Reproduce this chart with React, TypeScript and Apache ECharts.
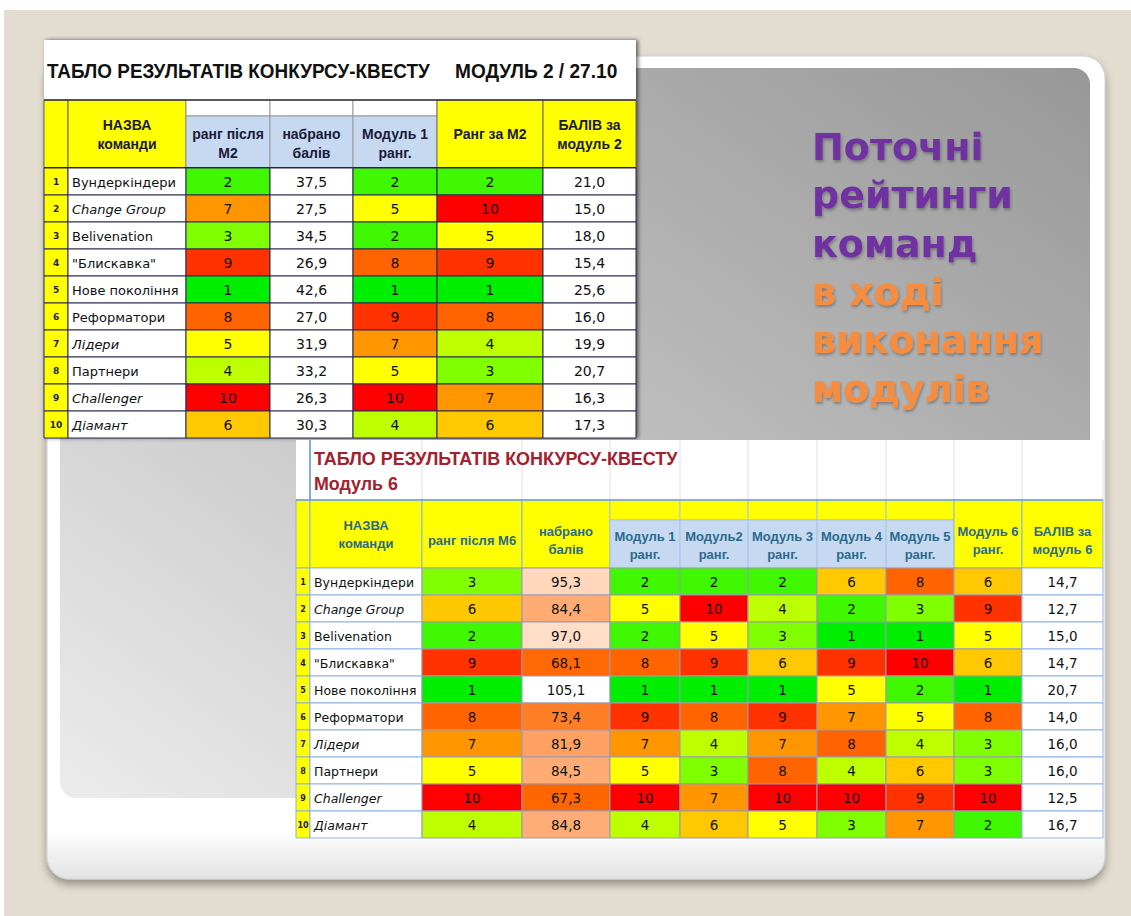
import React, { useEffect, useRef } from 'react';
import * as echarts from 'echarts';

// ---------- DATA ----------
const teams = ['Вундеркіндери', 'Change Group', 'Belivenation', '"Блискавка"', 'Нове покоління', 'Реформатори', 'Лідери', 'Партнери', 'Challenger', 'Діамант'];
const italicTeams = ['Change Group', 'Лідери', 'Challenger', 'Діамант'];
const rowNumbers = ['1', '2', '3', '4', '5', '6', '7', '8', '9', '10'];

// Table "Модуль 2 / 27.10"
const m2RankAfter = [2, 7, 3, 9, 1, 8, 5, 4, 10, 6];
const m2Points = [37.5, 27.5, 34.5, 26.9, 42.6, 27.0, 31.9, 33.2, 26.3, 30.3];
const m2Module1Rank = [2, 5, 2, 8, 1, 9, 7, 5, 10, 4];
const m2RankForM2 = [2, 10, 5, 9, 1, 8, 4, 3, 7, 6];
const m2Score = [21.0, 15.0, 18.0, 15.4, 25.6, 16.0, 19.9, 20.7, 16.3, 17.3];

// Table "Модуль 6"
const m6RankAfter = [3, 6, 2, 9, 1, 8, 7, 5, 10, 4];
const m6Points = [95.3, 84.4, 97.0, 68.1, 105.1, 73.4, 81.9, 84.5, 67.3, 84.8];
const m6Module1Rank = [2, 5, 2, 8, 1, 9, 7, 5, 10, 4];
const m6Module2Rank = [2, 10, 5, 9, 1, 8, 4, 3, 7, 6];
const m6Module3Rank = [2, 4, 3, 6, 1, 9, 7, 8, 10, 5];
const m6Module4Rank = [6, 2, 1, 9, 5, 7, 8, 4, 10, 3];
const m6Module5Rank = [8, 3, 1, 10, 2, 5, 4, 6, 9, 7];
const m6Module6Rank = [6, 9, 5, 6, 1, 8, 3, 3, 10, 2];
const m6Score = [14.7, 12.7, 15.0, 14.7, 20.7, 14.0, 16.0, 16.0, 12.5, 16.7];

const m2Title = 'ТАБЛО РЕЗУЛЬТАТІВ КОНКУРСУ-КВЕСТУ';
const m2Subtitle = 'МОДУЛЬ 2 / 27.10';
const m6Title = 'ТАБЛО РЕЗУЛЬТАТІВ КОНКУРСУ-КВЕСТУ';
const m6Subtitle = 'Модуль 6';
const m2Headers = ['НАЗВА\nкоманди', 'ранг після\nM2', 'набрано\nбалів', 'Модуль 1\nранг.', 'Ранг за M2', 'БАЛІВ за\nмодуль 2'];
const m6Headers = ['НАЗВА\nкоманди', 'ранг після М6', 'набрано\nбалів', 'Модуль 1\nранг.', 'Модуль2\nранг.', 'Модуль 3\nранг.', 'Модуль 4\nранг.', 'Модуль 5\nранг.', 'Модуль 6\nранг.', 'БАЛІВ за\nмодуль 6'];
const headingPurple = ['Поточні', 'рейтинги', 'команд'];
const headingOrange = ['в ході', 'виконання', 'модулів'];

// ---------- STYLE / LAYOUT ----------
const rankPalette = ['#00ef00', '#3ff800', '#80ff00', '#bdff00', '#ffff00', '#ffc800', '#ff9600', '#ff6400', '#ff3200', '#ff0000'];
const YELLOW = '#ffff00';
const BLUE = '#c6d9f0';
const L1 = { edges: [44, 68, 186, 270, 353, 437, 543, 636], headTop: 100, split: 116, top: 168, rowH: 27, kinds: ['y', 's', 's', 's', 'y', 'y'] };
const L2 = { edges: [296, 310, 422, 522, 610, 680, 748, 817, 886, 954, 1022, 1103], headTop: 500, split: 520, top: 568, rowH: 27, kinds: ['y', 'y', 'y', 'sy', 'sy', 'sy', 'sy', 'sy', 'y', 'y'] };
const CELL_FONT = "'DejaVu Sans', 'Noto Sans', sans-serif";
const HEAD_FONT = "'Liberation Sans', Arial, sans-serif";

type Cell = { col: number; row: number; text: string; fill: string; kind: 'idx' | 'name' | 'val'; italic?: boolean };

const fmt = (v: number) => v.toFixed(1).replace('.', ',');
const rankFill = (v: number) => rankPalette[v - 1];

function mix(a: string, b: string, t: number) {
  const pa = [1, 3, 5].map((i) => parseInt(a.slice(i, i + 2), 16));
  const pb = [1, 3, 5].map((i) => parseInt(b.slice(i, i + 2), 16));
  const c = pa.map((x, i) => Math.round(x + (pb[i] - x) * t));
  return 'rgb(' + c.join(',') + ')';
}
const pMin = Math.min(...m6Points);
const pMax = Math.max(...m6Points);
const pointsFill = (v: number) => mix('#ff6600', '#ffffff', (v - pMin) / (pMax - pMin));

function baseCells(r: number): Cell[] {
  return [
    { col: 0, row: r, text: rowNumbers[r], fill: YELLOW, kind: 'idx' },
    { col: 1, row: r, text: teams[r], fill: '#ffffff', kind: 'name', italic: italicTeams.includes(teams[r]) },
  ];
}

const cells1: Cell[] = [];
const cells2: Cell[] = [];
for (let r = 0; r < teams.length; r++) {
  cells1.push(
    ...baseCells(r),
    { col: 2, row: r, text: String(m2RankAfter[r]), fill: rankFill(m2RankAfter[r]), kind: 'val' },
    { col: 3, row: r, text: fmt(m2Points[r]), fill: '#ffffff', kind: 'val' },
    { col: 4, row: r, text: String(m2Module1Rank[r]), fill: rankFill(m2Module1Rank[r]), kind: 'val' },
    { col: 5, row: r, text: String(m2RankForM2[r]), fill: rankFill(m2RankForM2[r]), kind: 'val' },
    { col: 6, row: r, text: fmt(m2Score[r]), fill: '#ffffff', kind: 'val' }
  );
  const mods = [m6Module1Rank, m6Module2Rank, m6Module3Rank, m6Module4Rank, m6Module5Rank, m6Module6Rank];
  cells2.push(
    ...baseCells(r),
    { col: 2, row: r, text: String(m6RankAfter[r]), fill: rankFill(m6RankAfter[r]), kind: 'val' },
    { col: 3, row: r, text: fmt(m6Points[r]), fill: pointsFill(m6Points[r]), kind: 'val' },
    ...mods.map((m, i) => ({ col: 4 + i, row: r, text: String(m[r]), fill: rankFill(m[r]), kind: 'val' as const })),
    { col: 10, row: r, text: fmt(m6Score[r]), fill: '#ffffff', kind: 'val' }
  );
}

function makeRender(cells: Cell[], t: 1 | 2) {
  return (params: any, api: any) => {
    const c = cells[params.dataIndex];
    const p0 = api.coord([api.value(0), api.value(1)]);
    const p1 = api.coord([api.value(2), api.value(1)]);
    const h = api.size([0, 1])[1];
    const x = p0[0];
    const y = p0[1] - h / 2;
    const w = p1[0] - p0[0];
    let stroke = '#2b2b55';
    if (t === 2) stroke = c.kind === 'val' && c.fill !== '#ffffff' ? '#9a9ab4' : '#8db3e2';
    let tx = x + w / 2;
    let align = 'center';
    let fontSize = t === 1 ? 14 : 13.5;
    let fontWeight: any = 'normal';
    let color = '#111';
    if (c.kind === 'name') {
      tx = x + 4;
      align = 'left';
      fontSize = t === 1 ? 13 : 12.5;
    } else if (c.kind === 'idx') {
      fontSize = t === 1 ? 9 : 8;
      fontWeight = 'bold';
      color = '#222244';
    }
    return {
      type: 'group',
      children: [
        { type: 'rect', shape: { x, y, width: w, height: h }, style: { fill: c.fill, stroke, lineWidth: 1 } },
        {
          type: 'text',
          x: tx,
          y: y + h / 2 + 0.5,
          style: { text: c.text, align, verticalAlign: 'middle', fill: color, fontSize, fontWeight, fontFamily: CELL_FONT, fontStyle: c.italic ? 'italic' : 'normal' },
        },
      ],
    };
  };
}

function headerElements(L: typeof L1, headers: string[], t: 1 | 2) {
  const els: any[] = [];
  const e = L.edges;
  const stroke = t === 1 ? '#666' : '#8db3e2';
  const textColor = t === 1 ? '#1a1a3a' : '#2c6a8c';
  const fs = t === 1 ? 14 : 13;
  els.push({ type: 'rect', shape: { x: e[0], y: L.headTop, width: e[1] - e[0], height: L.top - L.headTop }, style: { fill: YELLOW, stroke, lineWidth: 1 } });
  L.kinds.forEach((k, i) => {
    const x0 = e[i + 1];
    const x1 = e[i + 2];
    let cy = (L.headTop + L.top) / 2;
    if (k === 'y') {
      els.push({ type: 'rect', shape: { x: x0, y: L.headTop, width: x1 - x0, height: L.top - L.headTop }, style: { fill: YELLOW, stroke, lineWidth: 1 } });
    } else {
      els.push({ type: 'rect', shape: { x: x0, y: L.headTop, width: x1 - x0, height: L.split - L.headTop }, style: { fill: k === 's' ? '#ffffff' : YELLOW, stroke: t === 1 ? '#999' : '#a8c4e6', lineWidth: 1 } });
      els.push({ type: 'rect', shape: { x: x0, y: L.split, width: x1 - x0, height: L.top - L.split }, style: { fill: BLUE, stroke: t === 1 ? '#999' : '#a8c4e6', lineWidth: 1 } });
      cy = (L.split + L.top) / 2 + 1;
    }
    if (t === 2 && k === 'y' && i >= 1) cy += 6;
    els.push({
      type: 'text',
      x: (x0 + x1) / 2,
      y: cy,
      style: { text: headers[i], align: 'center', verticalAlign: 'middle', fill: textColor, fontSize: fs, fontWeight: 'bold', fontFamily: HEAD_FONT, lineHeight: fs + 5 },
    });
  });
  return els;
}

function buildOption(): any {
  const bg: any[] = [];
  bg.push({ type: 'rect', shape: { x: 0, y: 0, width: 1131, height: 916 }, style: { fill: '#ffffff' } });
  bg.push({ type: 'rect', shape: { x: 4, y: 10, width: 1127, height: 906 }, style: { fill: '#e3dcd0' } });
  bg.push({
    type: 'rect',
    shape: { x: 47, y: 56, width: 1058, height: 823, r: 22 },
    style: {
      fill: new echarts.graphic.LinearGradient(0, 0, 0, 1, [
        { offset: 0, color: '#ffffff' },
        { offset: 0.94, color: '#ffffff' },
        { offset: 1, color: '#e2e2e2' },
      ]),
      stroke: '#d0d0d0',
      lineWidth: 1,
      shadowBlur: 8,
      shadowOffsetY: 5,
      shadowColor: 'rgba(0,0,0,0.35)',
    },
  });
  bg.push({
    type: 'rect',
    shape: { x: 60, y: 68, width: 1030, height: 730, r: 16 },
    style: {
      fill: new echarts.graphic.LinearGradient(0, 1, 1, 0, [
        { offset: 0, color: '#ececec' },
        { offset: 0.45, color: '#c4c4c4' },
        { offset: 1, color: '#989898' },
      ]),
    },
  });
  headingPurple.concat(headingOrange).forEach((s, i) => {
    bg.push({
      type: 'text',
      x: 812,
      y: 147 + i * 48.3,
      style: {
        text: s,
        fill: i < headingPurple.length ? '#7030a0' : '#f68c3e',
        fontSize: 38,
        fontWeight: 'bold',
        fontFamily: "'DejaVu Sans', Verdana, sans-serif",
        verticalAlign: 'middle',
        textShadowColor: 'rgba(0,0,0,0.3)',
        textShadowBlur: 3,
        textShadowOffsetX: 1,
        textShadowOffsetY: 2,
      },
    });
  });

  // ---- table 1 ----
  bg.push({ type: 'rect', shape: { x: 44, y: 40, width: 592, height: 398 }, style: { fill: '#ffffff', shadowBlur: 4, shadowOffsetX: 2, shadowColor: 'rgba(0,0,0,0.6)' } });
  bg.push({ type: 'text', x: 47, y: 71, scaleX: 0.9, style: { text: m2Title, fill: '#111', fontSize: 21, fontWeight: 'bold', fontFamily: HEAD_FONT, verticalAlign: 'middle' } });
  bg.push({ type: 'text', x: 455, y: 71, scaleX: 0.91, style: { text: m2Subtitle, fill: '#111', fontSize: 21, fontWeight: 'bold', fontFamily: HEAD_FONT, verticalAlign: 'middle' } });
  bg.push(...headerElements(L1, m2Headers, 1));
  bg.push({ type: 'line', shape: { x1: 44, y1: 100, x2: 636, y2: 100 }, style: { stroke: '#333', lineWidth: 1.5 } });
  bg.push({ type: 'line', shape: { x1: 44, y1: 168, x2: 636, y2: 168 }, style: { stroke: '#222', lineWidth: 2 } });

  // ---- table 2 ----
  bg.push({ type: 'rect', shape: { x: 296, y: 440, width: 807, height: 400 }, style: { fill: '#ffffff' } });
  L2.edges.slice(2).forEach((x) => {
    bg.push({ type: 'line', shape: { x1: x, y1: 440, x2: x, y2: 500 }, style: { stroke: '#e0e0e0', lineWidth: 1 } });
  });
  bg.push({ type: 'line', shape: { x1: 310, y1: 440, x2: 310, y2: 500 }, style: { stroke: '#5b8fd0', lineWidth: 1.5 } });
  bg.push({ type: 'text', x: 314, y: 458, scaleX: 0.945, style: { text: m6Title, fill: '#a3202e', fontSize: 19, fontWeight: 'bold', fontFamily: HEAD_FONT, verticalAlign: 'middle' } });
  bg.push({ type: 'text', x: 314, y: 483, scaleX: 0.94, style: { text: m6Subtitle, fill: '#a3202e', fontSize: 19, fontWeight: 'bold', fontFamily: HEAD_FONT, verticalAlign: 'middle' } });
  bg.push(...headerElements(L2 as any, m6Headers, 2));
  bg.push({ type: 'line', shape: { x1: 296, y1: 500, x2: 1103, y2: 500 }, style: { stroke: '#6f9fd8', lineWidth: 1.5 } });

  const mkGrid = (L: any) => ({ left: L.edges[0], top: L.top, width: L.edges[L.edges.length - 1] - L.edges[0], height: L.rowH * teams.length });
  const mkX = (L: any, gi: number) => ({ type: 'value', gridIndex: gi, min: L.edges[0], max: L.edges[L.edges.length - 1], show: false });
  const mkY = (gi: number) => ({ type: 'category', gridIndex: gi, data: rowNumbers, inverse: true, show: false });
  const mkData = (cells: Cell[], L: any) => cells.map((c) => [L.edges[c.col], c.row, L.edges[c.col + 1]]);

  return {
    animation: false,
    graphic: { elements: bg },
    grid: [mkGrid(L1), mkGrid(L2)],
    xAxis: [mkX(L1, 0), mkX(L2, 1)],
    yAxis: [mkY(0), mkY(1)],
    series: [
      { type: 'custom', xAxisIndex: 0, yAxisIndex: 0, renderItem: makeRender(cells1, 1), data: mkData(cells1, L1), encode: { x: [0, 2], y: 1 }, clip: false, silent: true, z: 10 },
      { type: 'custom', xAxisIndex: 1, yAxisIndex: 1, renderItem: makeRender(cells2, 2), data: mkData(cells2, L2), encode: { x: [0, 2], y: 1 }, clip: false, silent: true, z: 10 },
    ],
  };
}

export default function App() {
  const ref = useRef<HTMLDivElement>(null);
  useEffect(() => {
    document.body.style.margin = '0';
    const chart = echarts.init(ref.current!, null, { renderer: 'svg' });
    chart.setOption(buildOption());
    return () => chart.dispose();
  }, []);
  return <div ref={ref} style={{ width: 1131, height: 916 }} />;
}
